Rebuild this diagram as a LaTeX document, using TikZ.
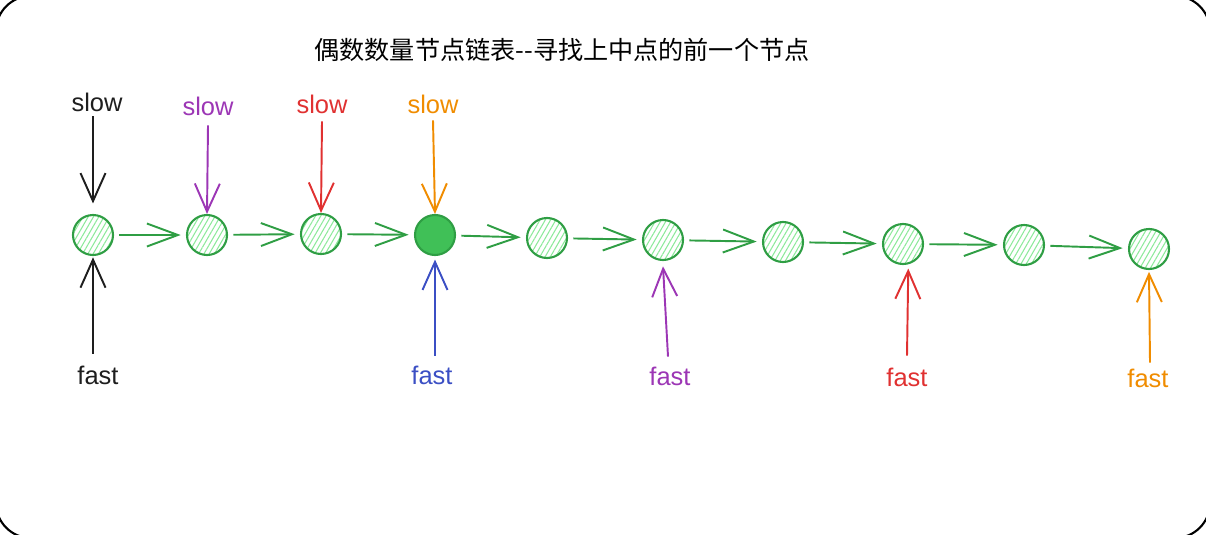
\documentclass[tikz,border=0pt]{standalone}
\usepackage{fontspec}
\setmainfont{Liberation Sans}
\newfontfamily\cjk{Noto Sans CJK SC}
\usetikzlibrary{arrows.meta,patterns.meta}
\definecolor{NodeLine}{HTML}{2F9E44}
\definecolor{NodeFill}{HTML}{40C057}
\definecolor{Hatch}{HTML}{8CE99A}
\definecolor{PtrBlack}{HTML}{1E1E1E}
\definecolor{PtrPurple}{HTML}{9C36B5}
\definecolor{PtrRed}{HTML}{E03131}
\definecolor{PtrOrange}{HTML}{F08C00}
\definecolor{PtrBlue}{HTML}{3B4FC4}

\begin{document}
\begin{tikzpicture}[
        x=0.02cm, y=-0.02cm,
        listnode/.style={circle, draw=NodeLine, line width=1.2pt, inner sep=0pt,
                         minimum size=0.8cm,
                         pattern={Lines[angle=60,distance=2.6pt,line width=0.6pt]},
                         pattern color=Hatch},
        midnode/.style={listnode, fill=NodeFill},
        link/.style={NodeLine, line width=1.1pt, shorten <=3pt, shorten >=3pt,
                     -{Straight Barb[length=0.62cm,width=0.46cm]}},
        ptr/.style={line width=1.1pt, -{Straight Barb[length=0.56cm,width=0.5cm]}},
        ptrlabel/.style={font=\fontsize{14.5pt}{16pt}\selectfont, inner sep=1pt}
      ]
        \clip (0,0) rectangle (1206,534);
        \draw[line width=1.2pt, rounded corners=0.7cm] (-4,-4) rectangle (1210,538);

        % title
        \node[font=\cjk\fontsize{14.3pt}{16pt}\selectfont] (title) at (562,50)
          {偶数数量节点链表--寻找上中点的前一个节点};

        % the list
        \node[listnode] (n1) at (93,235) {};
        \node[listnode] (n2) at (207,235) {};
        \node[listnode] (n3) at (321,234) {};
        \node[midnode]  (n4) at (435,235) {};
        \node[listnode] (n5) at (547,238) {};
        \node[listnode] (n6) at (663,240) {};
        \node[listnode] (n7) at (783,242) {};
        \node[listnode] (n8) at (903,244) {};
        \node[listnode] (n9) at (1024,245) {};
        \node[listnode] (n10) at (1149,249) {};

        \draw[link] (n1) -- (n2);
        \draw[link] (n2) -- (n3);
        \draw[link] (n3) -- (n4);
        \draw[link] (n4) -- (n5);
        \draw[link] (n5) -- (n6);
        \draw[link] (n6) -- (n7);
        \draw[link] (n7) -- (n8);
        \draw[link] (n8) -- (n9);
        \draw[link] (n9) -- (n10);

        % slow pointers
        \node[ptrlabel, PtrBlack]  (s1) at (97,102) {slow};
        \node[ptrlabel, PtrPurple] (s2) at (208,106) {slow};
        \node[ptrlabel, PtrRed]    (s3) at (322,104) {slow};
        \node[ptrlabel, PtrOrange] (s4) at (433,104) {slow};
        \draw[ptr, PtrBlack, shorten >=0.22cm] (s1.south -| n1) ++(0,3) coordinate (s1b) (s1b) -- (n1.north);
        \draw[ptr, PtrPurple] (s2.south) ++(0,8) coordinate (s2b) (s2b) -- (n2.north);
        \draw[ptr, PtrRed] (s3.south) ++(0,6) coordinate (s3b) (s3b) -- (n3.north);
        \draw[ptr, PtrOrange] (s4.south) ++(0,5) coordinate (s4b) (s4b) -- (n4.north);

        % fast pointers
        \node[ptrlabel, PtrBlack]  (f1) at (98,375) {fast};
        \node[ptrlabel, PtrBlue]   (f2) at (432,375) {fast};
        \node[ptrlabel, PtrPurple] (f3) at (670,376) {fast};
        \node[ptrlabel, PtrRed]    (f4) at (907,377) {fast};
        \node[ptrlabel, PtrOrange] (f5) at (1148,378) {fast};
        \draw[ptr, PtrBlack] (f1.north -| n1) ++(0,-10) coordinate (f1t) (f1t) -- ([yshift=-1pt]n1.south);
        \draw[ptr, PtrBlue] (f2.north -| n4) ++(0,-8) coordinate (f2t) (f2t) -- ([yshift=-2pt]n4.south);
        \draw[ptr, PtrPurple] (f3.north) ++(-2,-8) coordinate (f3t) (f3t) -- ([yshift=-3pt]n6.south);
        \draw[ptr, PtrRed] (f4.north -| n8) ++(4,-10) coordinate (f4t) (f4t) -- ([xshift=3pt,yshift=-2pt]n8.south);
        \draw[ptr, PtrOrange] (f5.north) ++(2,-4) coordinate (f5t) (f5t) -- ([yshift=-1pt]n10.south);
      \end{tikzpicture}
\end{document}
